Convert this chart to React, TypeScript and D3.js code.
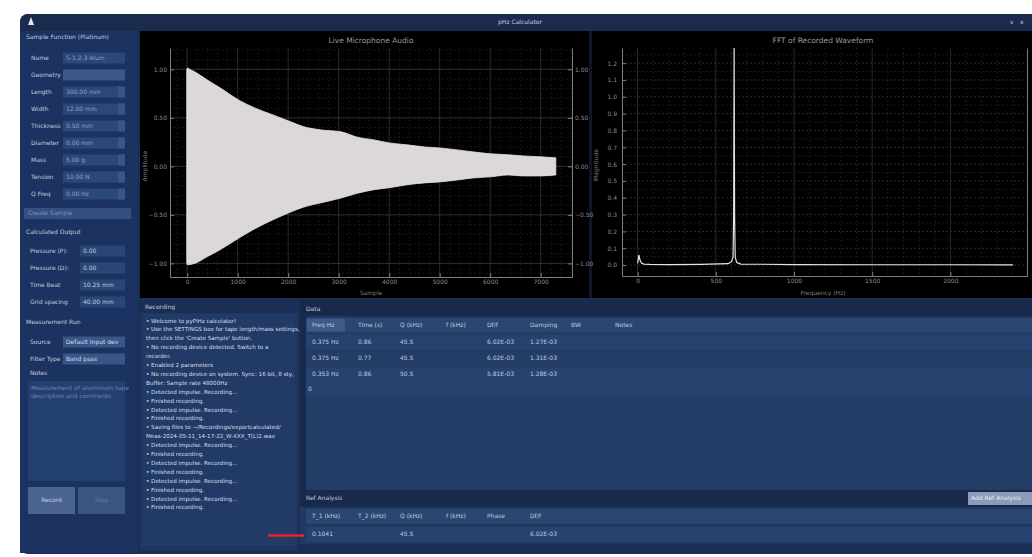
import React, { useEffect, useRef } from "react";
import * as d3 from "d3";

// ---------- data ----------
const waveSamples = [0, 150, 400, 650, 1050, 1350, 1700, 2050, 2300, 2650, 3050, 3350, 3700, 4000, 4350, 4700, 5000, 5350, 5650, 6000, 6350, 6650, 7000, 7300];
const waveUpper = [1.015, 0.974, 0.89, 0.81, 0.675, 0.6, 0.53, 0.46, 0.41, 0.376, 0.356, 0.304, 0.273, 0.242, 0.222, 0.2, 0.19, 0.17, 0.15, 0.13, 0.12, 0.108, 0.098, 0.088];
const waveLower = [-1.015, -1.0, -0.93, -0.86, -0.73, -0.64, -0.55, -0.47, -0.42, -0.376, -0.325, -0.28, -0.24, -0.22, -0.19, -0.17, -0.16, -0.14, -0.12, -0.108, -0.088, -0.098, -0.098, -0.088];
const waveXTicks = [0, 1000, 2000, 3000, 4000, 5000, 6000, 7000];
const waveYTicks = [-1, -0.5, 0, 0.5, 1];

const fftFreq = [0, 8, 15, 25, 40, 80, 200, 400, 580, 600, 610, 614, 617, 620, 624, 634, 660, 1000, 1500, 2000, 2400];
const fftMag = [0.01, 0.06, 0.03, 0.012, 0.006, 0.004, 0.003, 0.004, 0.008, 0.02, 0.045, 0.3, 1.35, 0.3, 0.045, 0.015, 0.006, 0.003, 0.002, 0.002, 0.001];
const fftXTicks = [0, 500, 1000, 1500, 2000];
const fftYTicks = [0, 0.1, 0.2, 0.3, 0.4, 0.5, 0.6, 0.7, 0.8, 0.9, 1.0, 1.1, 1.2];

const settingLabels = ["Name", "Geometry", "Length", "Width", "Thickness", "Diameter", "Mass", "Tension", "Q Freq"];
const settingValues = ["S-1.2.3 Alum", "", "300.00 mm", "12.00 mm", "0.50 mm", "0.00 mm", "5.00 g", "10.00 N", "0.00 Hz"];
const outputLabels = ["Pressure (P):", "Pressure (D):", "Time Beat", "Grid spacing"];
const outputValues = ["0.00", "0.00", "10.25 mm", "40.00 mm"];

const logLines = [
  "• Welcome to pyPiHz calculator!",
  "• Use the SETTINGS box for tape length/mass settings,",
  "then click the 'Create Sample' button.",
  "• No recording device detected. Switch to a",
  "recorder.",
  "• Enabled 2 parameters",
  "• No recording device on system. Sync: 16 bit, 8 sty,",
  "Buffer: Sample rate 48000Hz",
  "• Detected impulse. Recording...",
  "• Finished recording.",
  "• Detected impulse. Recording...",
  "• Finished recording.",
  "• Saving files to ~/Recordings/exportcalculated/",
  "Meas-2024-05-11_14-17-22_W-XXX_T(L)2.wav",
  "• Detected impulse. Recording...",
  "• Finished recording.",
  "• Detected impulse. Recording...",
  "• Finished recording.",
  "• Detected impulse. Recording...",
  "• Finished recording.",
  "• Detected impulse. Recording...",
  "• Finished recording.",
];

const dataHeaders = ["Freq Hz", "Time (s)", "Q (kHz)", "f (kHz)", "Df/f", "Damping", "BW", "Notes"];
const dataRows = [
  ["0.375 Hz", "0.86", "45.5", "", "6.02E-03", "1.27E-03", "", ""],
  ["0.375 Hz", "0.77", "45.5", "", "6.02E-03", "1.31E-03", "", ""],
  ["0.353 Hz", "0.86", "50.5", "", "5.81E-03", "1.28E-03", "", ""],
];
const refHeaders = ["T_1 (kHz)", "T_2 (kHz)", "Q (kHz)", "f (kHz)", "Phase", "Df/f"];
const refRow = ["0.1041", "", "45.5", "", "", "6.02E-03"];

// ---------- style constants ----------
const FONT = "DejaVu Sans, sans-serif";
const TXT = "#c3ccdd";
const colX = [312, 358, 400, 446, 487, 530, 571, 615];

function Axis({ scale, orient, ticks, fmt, transform, pad }: any) {
  const ref = useRef<SVGGElement>(null);
  useEffect(() => {
    if (!ref.current) return;
    const g = d3.select(ref.current);
    let ax: any;
    if (orient === "left") ax = d3.axisLeft(scale);
    else if (orient === "right") ax = d3.axisRight(scale);
    else ax = d3.axisBottom(scale);
    ax.tickValues(ticks).tickFormat(fmt).tickSizeInner(-4).tickSizeOuter(0).tickPadding(pad);
    g.call(ax);
    g.attr("color", "#7e7e7e").attr("font-size", 6).attr("font-family", FONT);
    g.selectAll("text").attr("fill", "#8c8c8c");
  }, []);
  return <g ref={ref} transform={transform} />;
}

function WaveChart() {
  const x0 = 170, x1 = 572, y0 = 48, y1 = 277;
  const x = d3.scaleLinear().domain([-340, 7620]).range([x0, x1]);
  const y = d3.scaleLinear().domain([-1.14, 1.22]).range([y1, y0]);
  const pts = waveSamples.map((s, i) => ({ s, u: waveUpper[i], l: waveLower[i] }));
  const area = d3.area<any>().x((d) => x(d.s)).y0((d) => y(d.l)).y1((d) => y(d.u)).curve(d3.curveMonotoneX);
  const minorX = d3.range(-200, 7620, 200);
  const minorY = d3.range(-1.1, 1.22, 0.1);
  return (
    <g>
      <text x={371} y={43} fill="#9a9a9a" fontSize={7.5} fontFamily={FONT} textAnchor="middle">Live Microphone Audio</text>
      {minorX.map((v) => (
        <line key={"mx" + v} x1={x(v)} x2={x(v)} y1={y0} y2={y1} stroke={v % 1000 === 0 ? "#363636" : "#1c1c1c"} strokeDasharray={v % 1000 === 0 ? "" : "2,2"} strokeWidth={0.8} />
      ))}
      {minorY.map((v, i) => (
        <line key={"my" + i} x1={x0} x2={x1} y1={y(v)} y2={y(v)} stroke="#1c1c1c" strokeDasharray="2,2" strokeWidth={0.8} />
      ))}
      {waveYTicks.map((v) => (
        <line key={"gy" + v} x1={x0} x2={x1} y1={y(v)} y2={y(v)} stroke="#363636" strokeWidth={0.8} />
      ))}
      <path d={area(pts) || ""} fill="#dcd7d9" stroke="#e6dfe2" strokeWidth={0.8} />
      <line x1={x(0)} x2={x(0)} y1={y(1.0)} y2={y(-1.0)} stroke="#e6dfe2" strokeWidth={1.5} />
      <Axis scale={y} orient="left" ticks={waveYTicks} fmt={d3.format(".2f")} pad={3} transform={`translate(${x0},0)`} />
      <Axis scale={y} orient="right" ticks={waveYTicks} fmt={d3.format(".2f")} pad={3} transform={`translate(${x1},0)`} />
      <Axis scale={x} orient="bottom" ticks={waveXTicks} fmt={d3.format("d")} pad={3} transform={`translate(0,${y1})`} />
      <text x={371} y={295} fill="#7e7e7e" fontSize={6} fontFamily={FONT} textAnchor="middle">Sample</text>
      <text transform="translate(147,166) rotate(-90)" fill="#7e7e7e" fontSize={6} fontFamily={FONT} textAnchor="middle">Amplitude</text>
    </g>
  );
}

function FftChart() {
  const x0 = 622, x1 = 1027, y0 = 48, y1 = 276;
  const x = d3.scaleLinear().domain([-100, 2490]).range([x0, x1]);
  const y = d3.scaleLinear().domain([-0.065, 1.29]).range([y1, y0]);
  const line = d3.line<number>().x((d, i) => x(fftFreq[i])).y((d) => Math.max(y0, y(d)));
  const minorX = d3.range(0, 2490, 100);
  const minorY = d3.range(0, 1.29, 0.05);
  return (
    <g>
      <text x={823} y={43} fill="#9a9a9a" fontSize={7.5} fontFamily={FONT} textAnchor="middle">FFT of Recorded Waveform</text>
      {minorX.map((v) => (
        <line key={"fx" + v} x1={x(v)} x2={x(v)} y1={y0} y2={y1} stroke={v % 500 === 0 ? "#363636" : "#222"} strokeDasharray={v % 500 === 0 ? "" : "2,2"} strokeWidth={0.8} />
      ))}
      {minorY.map((v, i) => (
        <line key={"fy" + i} x1={x0} x2={x1} y1={y(v)} y2={y(v)} stroke={i % 2 === 0 ? "#363636" : "#1e1e1e"} strokeDasharray="2,2" strokeWidth={0.8} />
      ))}
      <path d={line(fftMag) || ""} fill="none" stroke="#e8e4e0" strokeWidth={1.2} />
      <Axis scale={y} orient="left" ticks={fftYTicks} fmt={d3.format(".1f")} pad={5} transform={`translate(${x0},0)`} />
      <Axis scale={y} orient="right" ticks={[]} fmt={d3.format(".1f")} pad={3} transform={`translate(${x1},0)`} />
      <Axis scale={x} orient="bottom" ticks={fftXTicks} fmt={d3.format("d")} pad={3} transform={`translate(0,${y1})`} />
      <text x={823} y={295} fill="#7e7e7e" fontSize={6} fontFamily={FONT} textAnchor="middle">Frequency (Hz)</text>
      <text transform="translate(598,165) rotate(-90)" fill="#7e7e7e" fontSize={6} fontFamily={FONT} textAnchor="middle">Magnitude</text>
    </g>
  );
}

function T({ x, y, children, size = 6, fill = TXT, anchor = "start", weight = "normal" }: any) {
  return (
    <text x={x} y={y} fill={fill} fontSize={size} fontFamily={FONT} textAnchor={anchor} fontWeight={weight} dominantBaseline="middle">
      {children}
    </text>
  );
}

function LeftPanel() {
  const rowsY = [58, 75, 92, 109, 126, 143, 160, 177, 194];
  const outY = [251, 268, 285, 302];
  return (
    <g>
      <rect x={20} y={31} width={118} height={522} fill="#1c3260" />
      <T x={26} y={37} size={6}>Sample Function (Platinum)</T>
      {settingLabels.map((l, i) => (
        <g key={l}>
          <T x={31} y={rowsY[i]}>{l}</T>
          <rect x={63} y={rowsY[i] - 5.5} width={62} height={11} fill={i === 1 ? "#3b5889" : "#2c4879"} />
          <T x={66} y={rowsY[i]} fill="#8ea0c4">{settingValues[i]}</T>
          {i > 1 && <rect x={118} y={rowsY[i] - 5.5} width={7} height={11} fill="#3a5686" />}
        </g>
      ))}
      <rect x={24} y={208} width={107} height={11} fill="#33507f" />
      <T x={28} y={213.5} fill="#7f93b8">Create Sample</T>
      <T x={26} y={232}>Calculated Output</T>
      {outputLabels.map((l, i) => (
        <g key={l}>
          <T x={30} y={outY[i]}>{l}</T>
          <rect x={80} y={outY[i] - 5.5} width={45} height={11} fill="#2a4677" />
          <T x={83} y={outY[i]}>{outputValues[i]}</T>
        </g>
      ))}
      <T x={26} y={322}>Measurement Run</T>
      <T x={30} y={342}>Source</T>
      <rect x={63} y={336.5} width={62} height={11} fill="#3a5687" />
      <T x={66} y={342} fill="#d4dbea">Default Input dev</T>
      <T x={30} y={359}>Filter Type</T>
      <rect x={63} y={353.5} width={62} height={11} fill="#3a5687" />
      <T x={66} y={359} fill="#d4dbea">Band pass</T>
      <T x={30} y={373}>Notes</T>
      <rect x={28} y={381} width={97} height={100} fill="#24406f" />
      <T x={31} y={388} fill="#6f86b2">Measurement of aluminium tape</T>
      <T x={31} y={396} fill="#6f86b2">description and comments</T>
      <rect x={28} y={487} width={47} height={27} fill="#4a6391" />
      <T x={51.5} y={500.5} anchor="middle" fill="#c8d2e6">Record</T>
      <rect x={78} y={487} width={47} height={27} fill="#3b5482" />
      <T x={101.5} y={500.5} anchor="middle" fill="#6a80aa">Stop</T>
    </g>
  );
}

function LogPanel() {
  return (
    <g>
      <rect x={140} y={300} width={158} height={250} fill="#1f3660" />
      <rect x={140} y={300} width={158} height={13} fill="#1b2f55" />
      <T x={145} y={307}>Recording</T>
      <rect x={143} y={314} width={152} height={232} fill="#223b66" />
      {logLines.map((l, i) => (
        <T key={i} x={146} y={321 + i * 8.9} size={5.6} fill="#d8deea">{l}</T>
      ))}
    </g>
  );
}

function TablePanel() {
  const rowY = [342, 358, 374];
  return (
    <g>
      <rect x={300} y={300} width={732} height={250} fill="#213860" />
      <rect x={300} y={300} width={732} height={16} fill="#172a4c" />
      <T x={306} y={309}>Data</T>
      <rect x={300} y={316} width={6} height={174} fill="#182b4d" />
      <rect x={306} y={318} width={726} height={172} fill="#243d66" />
      <rect x={306} y={318} width={726} height={14} fill="#2c4672" />
      <rect x={307} y={318.5} width={38} height={13} fill="#3e5a8b" />
      {dataHeaders.map((h, i) => (
        <T key={h} x={colX[i]} y={325}>{h}</T>
      ))}
      {dataRows.map((r, ri) => (
        <g key={ri}>
          <rect x={306} y={rowY[ri] - 7} width={726} height={15} fill={ri % 2 ? "#243d66" : "#284270"} />
          {r.map((c, ci) => (
            <T key={ci} x={colX[ci]} y={rowY[ri]}>{c}</T>
          ))}
        </g>
      ))}
      <rect x={306} y={382} width={726} height={14} fill="#284270" />
      <T x={308} y={389}>0</T>
      <rect x={300} y={490} width={732} height={17} fill="#172a4c" />
      <T x={306} y={498}>Ref Analysis</T>
      <rect x={968} y={492} width={64} height={13} fill="#8d9bb8" />
      <T x={971} y={498.5} fill="#e8ecf4">Add Ref Analysis</T>
      <rect x={306} y={509} width={726} height={15} fill="#2c4672" />
      {refHeaders.map((h, i) => (
        <T key={h} x={colX[i]} y={516.5}>{h}</T>
      ))}
      <rect x={306} y={527} width={726} height={15} fill="#284270" />
      {refRow.map((c, i) => (
        <T key={i} x={colX[i]} y={534.5}>{c}</T>
      ))}
      <line x1={268} x2={304} y1={535.5} y2={535.5} stroke="#e8252a" strokeWidth={2.5} />
      <rect x={300} y={544} width={732} height={8} fill="#1a2e55" />
    </g>
  );
}

export default function App() {
  return (
    <div style={{ position: "absolute", left: 0, top: 0, width: 1032, height: 557, background: "#fff" }}>
      <svg width={1032} height={557} style={{ display: "block" }}>
        <rect x={0} y={0} width={1032} height={557} fill="#ffffff" />
        <rect x={20} y={14} width={1030} height={540} rx={8} fill="#1b2e55" />
        <rect x={20} y={14} width={1030} height={17} rx={8} fill="#1a2b4d" />
        <rect x={20} y={22} width={1030} height={9} fill="#1a2b4d" />
        <path d="M28,25 L31,17 L34,25 Z" fill="#e4e8f0" />
        <T x={520} y={22.5} anchor="middle" size={6} fill="#c8d0e0">pHz Calculator</T>
        <T x={1010} y={22.5} size={6} fill="#c8d0e0">v</T>
        <T x={1020} y={22.5} size={6} fill="#c8d0e0">x</T>
        <LeftPanel />
        <rect x={140} y={31} width={892} height={267} fill="#000000" />
        <rect x={589} y={31} width={3} height={267} fill="#0e1626" />
        <WaveChart />
        <FftChart />
        <LogPanel />
        <TablePanel />
      </svg>
    </div>
  );
}
